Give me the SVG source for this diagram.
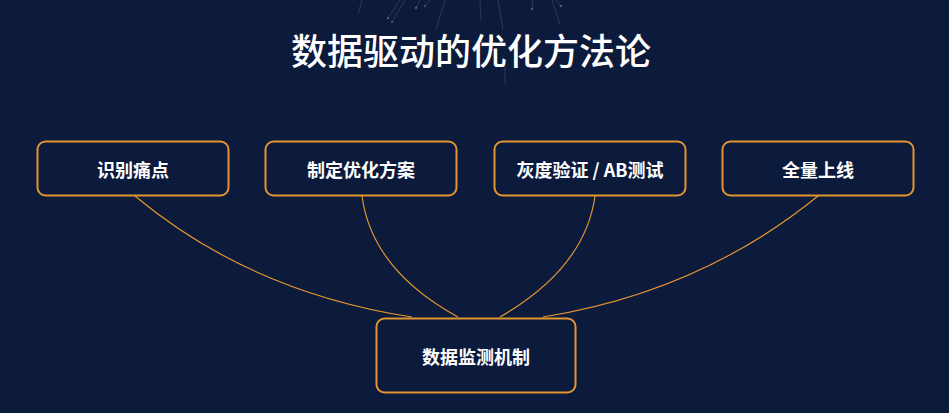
<svg xmlns="http://www.w3.org/2000/svg" width="949" height="413" viewBox="0 0 949 413">
<style>
.bg{fill:#0c1a3b}
.box{fill:#0c1a3b;stroke:#e3952f;stroke-width:2}
.lbl{font-family:"Noto Sans CJK SC","Liberation Sans",sans-serif;font-size:18px;font-weight:bold;fill:#ffffff;text-anchor:middle;dominant-baseline:central}
.title{font-family:"Noto Sans CJK SC","Liberation Sans",sans-serif;font-size:36px;font-weight:500;fill:#ffffff;text-anchor:middle;dominant-baseline:central}
.edge{fill:none;stroke:#e3952f;stroke-width:1.2}
.deco line{stroke:#8fa0c0;stroke-width:0.8;opacity:0.3}
.deco circle{fill:#a8b6d0;opacity:0.4}
</style>
<rect class="bg" x="0" y="0" width="949" height="413"/>
<g id="decoration" class="deco">
<line x1="362" y1="0" x2="358" y2="14"/>
<line x1="400" y1="0" x2="388" y2="18"/>
<line x1="405" y1="0" x2="392" y2="22"/>
<line x1="420" y1="0" x2="416" y2="8"/>
<line x1="445" y1="0" x2="436" y2="30"/>
<line x1="430" y1="0" x2="425" y2="6"/>
<line x1="480" y1="0" x2="481" y2="20"/>
<line x1="498" y1="0" x2="503" y2="30"/>
<line x1="533" y1="0" x2="532" y2="9"/>
<line x1="552" y1="0" x2="560" y2="25"/>
<line x1="556" y1="0" x2="561" y2="6"/>
<line x1="505" y1="64" x2="505" y2="84"/>
<circle cx="388" cy="18" r="1.2"/>
<circle cx="392" cy="22" r="1"/>
<circle cx="416" cy="8" r="1.2"/>
<circle cx="425" cy="6" r="1"/>
<circle cx="532" cy="9" r="1.2"/>
<circle cx="561" cy="6" r="1.2"/>
</g>
<text id="title" class="title" x="471" y="49">数据驱动的优化方法论</text>
<g id="connectors">
<path class="edge" d="M135,196 Q250,292 412,317"/>
<path class="edge" d="M362,196 Q372,270 458,317"/>
<path class="edge" d="M595,196 Q585,268 500,317"/>
<path class="edge" d="M818,196 Q700,292 543,317"/>
</g>
<g id="node-identify">
<rect class="box" x="37.5" y="141.5" width="191" height="54" rx="8"/>
<text class="lbl" x="133" y="168.5">识别痛点</text>
</g>
<g id="node-plan">
<rect class="box" x="265.5" y="141.5" width="191" height="54" rx="8"/>
<text class="lbl" x="361" y="168.5">制定优化方案</text>
</g>
<g id="node-test">
<rect class="box" x="494.5" y="141.5" width="191" height="54" rx="8"/>
<text class="lbl" x="590" y="168.5">灰度验证 / AB测试</text>
</g>
<g id="node-launch">
<rect class="box" x="722.5" y="141.5" width="191" height="54" rx="8"/>
<text class="lbl" x="818" y="168.5">全量上线</text>
</g>
<g id="node-monitor">
<rect class="box" x="376.5" y="318.5" width="199" height="74" rx="8"/>
<text class="lbl" x="476" y="355.5">数据监测机制</text>
</g>
</svg>
